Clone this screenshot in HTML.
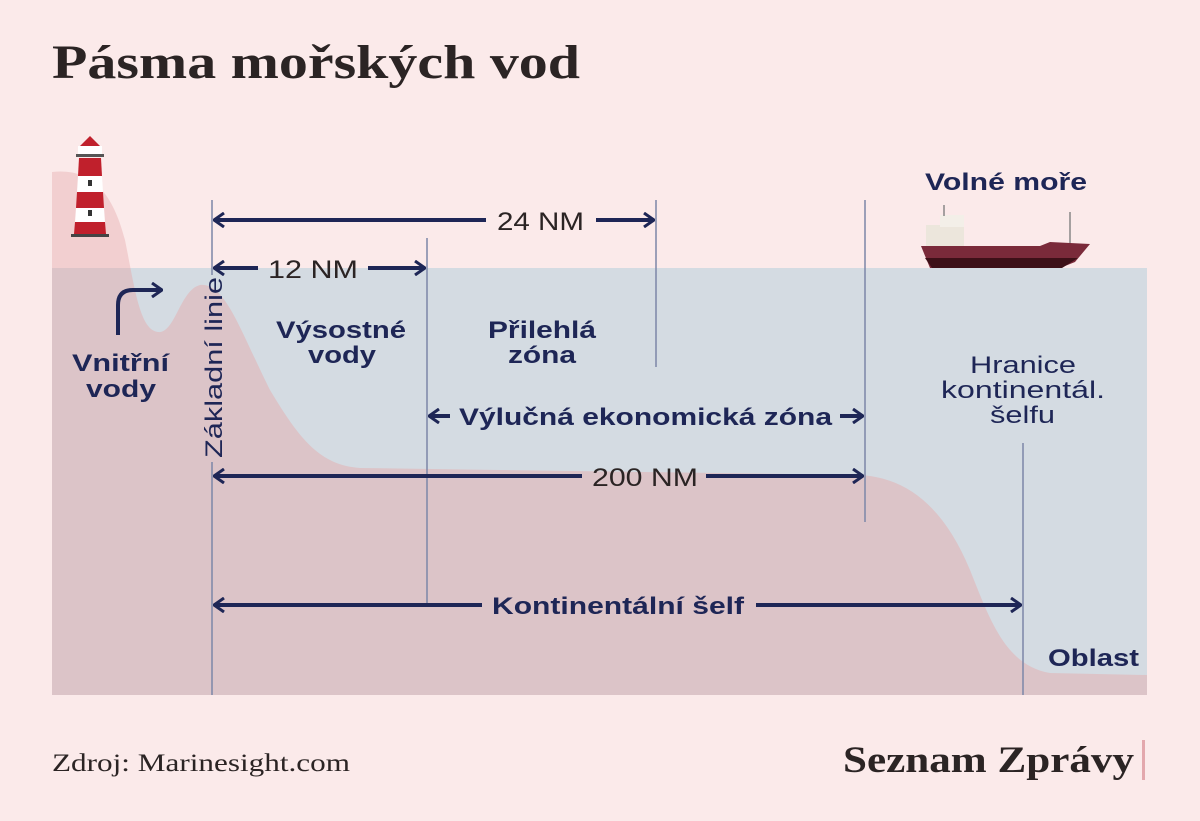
<!DOCTYPE html>
<html><head><meta charset="utf-8"><style>
html,body{margin:0;padding:0;background:#fbeaea;}
body{width:1200px;height:816px;overflow:hidden;position:relative;}
</style></head><body>
<svg width="1200" height="816" viewBox="0 0 1200 816" xmlns="http://www.w3.org/2000/svg">
<defs>
<clipPath id="above"><rect x="0" y="0" width="1200" height="268"/></clipPath>
<clipPath id="below"><rect x="0" y="268" width="1200" height="600"/></clipPath>
<path id="land" d="M52 172 C90 168 112 190 125 240 C135 290 140 330 158 332 C175 334 180 290 200 285 C225 282 240 330 270 390 C300 440 320 465 360 468 L860 475 C910 478 945 510 970 570 C990 620 1005 665 1050 673 L1147 675 L1147 695 L52 695 Z"/>
<marker id="ah" viewBox="0 0 12 16" refX="11" refY="8" markerWidth="12" markerHeight="16" markerUnits="userSpaceOnUse" orient="auto-start-reverse"><path d="M1 1 L11 8 L1 15" fill="none" stroke="#1e2656" stroke-width="3"/></marker>
</defs>
<rect width="1200" height="816" fill="#fbeaea"/>
<text x="52" y="78" font-family="Liberation Serif, serif" font-weight="bold" font-size="48" fill="#2b2424" textLength="528" lengthAdjust="spacingAndGlyphs">Pásma mořských vod</text>
<rect x="52" y="268" width="1095" height="427" fill="#d4dbe2"/>
<use href="#land" fill="#f2cfd0" clip-path="url(#above)"/>
<use href="#land" fill="#dcc4c8" clip-path="url(#below)"/>
<!-- lighthouse -->
<g>
<polygon points="80,146 90,136 100,146" fill="#c0202c"/>
<rect x="78" y="146" width="24" height="10" fill="#fff"/>
<rect x="76" y="154" width="28" height="3" fill="#555"/>
<polygon points="79,158 101,158 102,176 78,176" fill="#c0202c"/>
<polygon points="78,176 102,176 103,192 77,192" fill="#fff"/>
<polygon points="77,192 103,192 104,208 76,208" fill="#c0202c"/>
<polygon points="76,208 104,208 105,222 75,222" fill="#fff"/>
<polygon points="75,222 105,222 106,234 74,234" fill="#c0202c"/>
<rect x="71" y="234" width="38" height="3" fill="#444"/>
<rect x="88" y="180" width="4" height="6" fill="#333"/><rect x="88" y="210" width="4" height="6" fill="#333"/>
</g>
<!-- ship -->
<g>
<rect x="926" y="225" width="38" height="22" fill="#ece6dc"/>
<rect x="940" y="215" width="24" height="12" fill="#f3efe8"/>
<line x1="944" y1="205" x2="944" y2="216" stroke="#888" stroke-width="1.5"/>
<line x1="1070" y1="212" x2="1070" y2="244" stroke="#888" stroke-width="1.5"/>
<polygon points="921,246 1040,246 1050,242 1090,244 1075,262 1060,268 930,268" fill="#7a2a3a"/>
<polygon points="925,258 1078,258 1062,268 932,268" fill="#3d1018"/>
</g>
<!-- vertical lines -->
<g stroke="#7d86a8" stroke-width="1.5">
<line x1="212" y1="200" x2="212" y2="275"/>
<line x1="212" y1="462" x2="212" y2="695"/>
<line x1="427" y1="238" x2="427" y2="605"/>
<line x1="656" y1="200" x2="656" y2="367"/>
<line x1="865" y1="200" x2="865" y2="522"/>
<line x1="1023" y1="443" x2="1023" y2="695"/>
</g>
<g stroke="#1e2656" stroke-width="4" fill="none">
<line x1="214" y1="220" x2="486" y2="220" marker-start="url(#ah)"/>
<line x1="596" y1="220" x2="654" y2="220" marker-end="url(#ah)"/>
<line x1="214" y1="268" x2="258" y2="268" marker-start="url(#ah)"/>
<line x1="368" y1="268" x2="425" y2="268" marker-end="url(#ah)"/>
<line x1="429" y1="416" x2="450" y2="416" marker-start="url(#ah)"/>
<line x1="840" y1="416" x2="863" y2="416" marker-end="url(#ah)"/>
<line x1="214" y1="476" x2="582" y2="476" marker-start="url(#ah)"/>
<line x1="706" y1="476" x2="863" y2="476" marker-end="url(#ah)"/>
<line x1="214" y1="605" x2="482" y2="605" marker-start="url(#ah)"/>
<line x1="756" y1="605" x2="1021" y2="605" marker-end="url(#ah)"/>
<path d="M118 335 L118 305 Q118 290 133 290 L162 290" marker-end="url(#ah)"/>
</g>
<g font-family="Liberation Sans, sans-serif" fill="#1e2656">
<text x="497" y="230" font-size="25" fill="#2b2424" textLength="87" lengthAdjust="spacingAndGlyphs">24 NM</text>
<text x="268" y="278" font-size="25" fill="#2b2424" textLength="90" lengthAdjust="spacingAndGlyphs">12 NM</text>
<text x="592" y="486" font-size="25" fill="#2b2424" textLength="106" lengthAdjust="spacingAndGlyphs">200 NM</text>
<g font-weight="bold" font-size="24">
<text x="276" y="338" textLength="130" lengthAdjust="spacingAndGlyphs">Výsostné</text><text x="308" y="363" textLength="68" lengthAdjust="spacingAndGlyphs">vody</text>
<text x="488" y="338" textLength="108" lengthAdjust="spacingAndGlyphs">Přilehlá</text><text x="508" y="363" textLength="68" lengthAdjust="spacingAndGlyphs">zóna</text>
<text x="72" y="371" textLength="97" lengthAdjust="spacingAndGlyphs">Vnitřní</text><text x="86" y="397" textLength="70" lengthAdjust="spacingAndGlyphs">vody</text>
<text x="459" y="425" textLength="373" lengthAdjust="spacingAndGlyphs">Výlučná ekonomická zóna</text>
<text x="492" y="614" textLength="252" lengthAdjust="spacingAndGlyphs">Kontinentální šelf</text>
<text x="925" y="190" textLength="162" lengthAdjust="spacingAndGlyphs">Volné moře</text>
<text x="1048" y="666" textLength="91" lengthAdjust="spacingAndGlyphs">Oblast</text>
</g>
<g font-size="24">
<text x="970" y="373" textLength="106" lengthAdjust="spacingAndGlyphs">Hranice</text><text x="941" y="398" textLength="164" lengthAdjust="spacingAndGlyphs">kontinentál.</text><text x="990" y="423" textLength="65" lengthAdjust="spacingAndGlyphs">šelfu</text>
</g>
<text transform="translate(222,458) rotate(-90)" font-size="24" fill="#1e2656" textLength="181" lengthAdjust="spacingAndGlyphs">Základní linie</text>
</g>
<text x="52" y="771" font-family="Liberation Serif, serif" font-size="25" fill="#2b2424" textLength="298" lengthAdjust="spacingAndGlyphs">Zdroj: Marinesight.com</text>
<text x="843" y="772" font-family="Liberation Serif, serif" font-weight="bold" font-size="37" fill="#2b2424" textLength="291" lengthAdjust="spacingAndGlyphs">Seznam Zprávy</text>
<rect x="1142" y="740" width="3" height="40" fill="#e3a8ad"/>
</svg>
</body></html>
